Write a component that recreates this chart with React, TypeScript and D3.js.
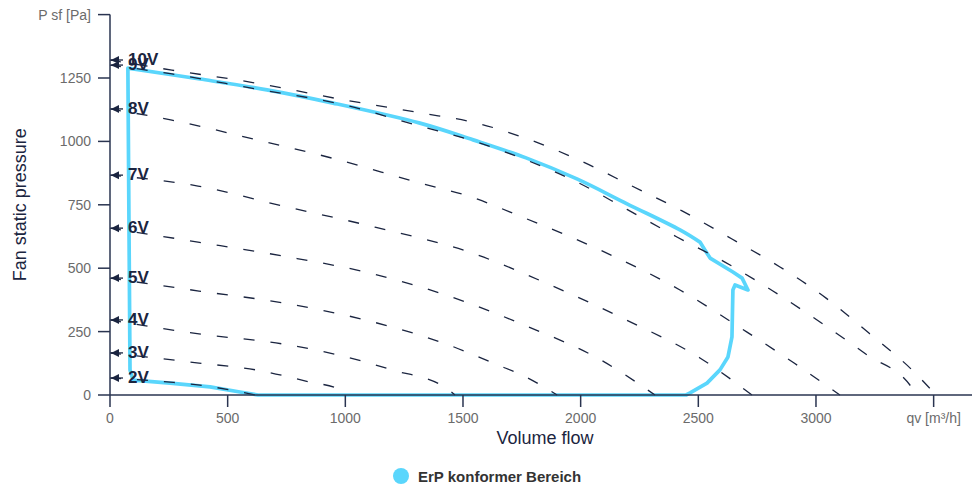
import React from 'react';
import * as d3 from 'd3';

type Pt = [number, number];

// Voltage curves: [volume flow m³/h, static pressure Pa]
const voltageLabels = ['2V', '3V', '4V', '5V', '6V', '7V', '8V', '9V', '10V'];
const curve2V: Pt[] = [[0, 67], [255, 51], [382, 39], [510, 20], [620, 0]];
const curve3V: Pt[] = [[0, 166], [378, 126], [620, 99], [850, 51], [969, 24], [1007, 0]];
const curve4V: Pt[] = [[0, 296], [378, 241], [735, 201], [969, 158], [1198, 99], [1428, 28], [1466, 0]];
const curve5V: Pt[] = [[0, 461], [378, 410], [735, 363], [1084, 296], [1428, 201], [1649, 118], [1759, 75], [1900, 0]];
const curve6V: Pt[] = [[0, 658], [374, 603], [735, 548], [1084, 485], [1428, 394], [1759, 276], [2086, 138], [2316, 0]];
const curve7V: Pt[] = [[0, 867], [374, 824], [718, 749], [1126, 662], [1538, 560], [1861, 438], [2193, 296], [2507, 146], [2728, 0]];
const curve8V: Pt[] = [[0, 1128], [263, 1084], [612, 1009], [956, 931], [1300, 840], [1534, 781], [1751, 702], [2082, 572], [2422, 414], [2707, 248], [2907, 126], [3102, 0]];
const curve9V: Pt[] = [[0, 1301], [263, 1266], [595, 1211], [999, 1143], [1313, 1061], [1543, 1002], [1768, 927], [1984, 840], [2197, 732], [2409, 623], [2613, 524], [2817, 410], [3017, 288], [3217, 158], [3408, 28], [3425, 0]];
const curve10V: Pt[] = [[0, 1321], [263, 1281], [595, 1234], [999, 1163], [1322, 1112], [1555, 1073], [1785, 1006], [2001, 923], [2218, 824], [2431, 726], [2643, 615], [2847, 505], [3043, 382], [3225, 244], [3408, 99], [3510, 0]];
const voltageCurves: Pt[][] = [curve2V, curve3V, curve4V, curve5V, curve6V, curve7V, curve8V, curve9V, curve10V];

// ErP conform region outline: smooth upper edge, then the rest of the outline
const erpTopFlow = [76, 382, 667, 948, 1317, 1543, 1768, 1984, 2197, 2422, 2507];
const erpTopPressure = [1289, 1246, 1203, 1151, 1072, 1006, 935, 852, 754, 651, 603];
const erpRestFlow = [2507, 2528, 2550, 2647, 2686, 2711, 2656, 2647, 2643, 2626, 2592, 2537, 2465, 2448, 629, 552, 425, 255, 98, 85, 76];
const erpRestPressure = [603, 572, 540, 485, 461, 414, 434, 414, 229, 150, 99, 47, 8, 0, 0, 12, 32, 47, 59, 99, 1289];

const yTicks = [0, 250, 500, 750, 1000, 1250, 1500];
const yTickLabels = ['0', '250', '500', '750', '1000', '1250', 'P sf [Pa]'];
const xTicks = [0, 500, 1000, 1500, 2000, 2500, 3000, 3500];
const xTickLabels = ['0', '500', '1000', '1500', '2000', '2500', '3000', 'qv [m³/h]'];

const W = 972;
const H = 485;
const FONT = '"Liberation Sans", Arial, Helvetica, sans-serif';
const AXIS = '#2a3450';
const NAVY = '#1b2540';
const BLUE = '#5ad6fc';

export default function App() {
  const x = d3.scaleLinear().domain([0, 3663]).range([110, 972]);
  const y = d3.scaleLinear().domain([0, 1500]).range([395, 14.6]);

  const line = d3
    .line<Pt>()
    .x((d) => x(d[0]))
    .y((d) => y(d[1]))
    .curve(d3.curveMonotoneX);

  const topPts: Pt[] = erpTopFlow.map((f, i) => [f, erpTopPressure[i]]);
  const restPts: Pt[] = erpRestFlow.map((f, i) => [f, erpRestPressure[i]]);
  const topLine = d3
    .line<Pt>()
    .x((d) => x(d[0]))
    .y((d) => y(d[1]))
    .curve(d3.curveCatmullRom.alpha(0.5));
  const restLine = d3
    .line<Pt>()
    .x((d) => x(d[0]))
    .y((d) => y(d[1]))
    .curve(d3.curveLinear);
  const restD = (restLine(restPts) || '').replace(/^M/, 'L');
  const erpD = (topLine(topPts) || '') + restD + 'Z';

  const x0 = x(0);
  const yBase = y(0);

  return (
    <svg
      width={W}
      height={H}
      style={{ position: 'absolute', left: 0, top: 0, background: '#fff' }}
      fontFamily={FONT}
    >
      {/* ErP region */}
      <path
        d={erpD}
        fill="none"
        stroke={BLUE}
        strokeWidth={3.7}
        strokeLinejoin="round"
        strokeLinecap="round"
      />

      {/* voltage curves */}
      {voltageCurves.map((c, i) => (
        <path
          key={'c' + i}
          d={line(c) || ''}
          fill="none"
          stroke={NAVY}
          strokeWidth={1.3}
          strokeDasharray="11,16"
        />
      ))}

      {/* axes */}
      <line x1={x0} x2={x0} y1={y(1500)} y2={yBase} stroke={AXIS} strokeWidth={1.5} />
      <line x1={x0} x2={W} y1={yBase} y2={yBase} stroke={AXIS} strokeWidth={1.5} />
      {yTicks.map((t, i) => (
        <g key={'yt' + i}>
          <line x1={x0 - 12} x2={x0} y1={y(t)} y2={y(t)} stroke={AXIS} strokeWidth={1.5} />
          <text x={x0 - 19} y={y(t)} dy="0.35em" textAnchor="end" fontSize={14} fill="#6b6b6b">
            {yTickLabels[i]}
          </text>
        </g>
      ))}
      {xTicks.map((t, i) => (
        <g key={'xt' + i}>
          <line x1={x(t)} x2={x(t)} y1={yBase} y2={yBase + 12} stroke={AXIS} strokeWidth={1.5} />
          <text x={x(t)} y={yBase + 18} dy="0.71em" textAnchor="middle" fontSize={14} fill="#6b6b6b">
            {xTickLabels[i]}
          </text>
        </g>
      ))}

      {/* axis titles */}
      <text
        transform={`translate(20, ${(y(1500) + yBase) / 2}) rotate(-90)`}
        textAnchor="middle"
        dy="0.35em"
        fontSize={18}
        fill={NAVY}
      >
        Fan static pressure
      </text>
      <text x={545} y={438} dy="0.35em" textAnchor="middle" fontSize={18} fill={NAVY}>
        Volume flow
      </text>

      {/* start arrows and labels */}
      {voltageCurves.map((c, i) => {
        const ay = y(c[0][1]);
        return (
          <g key={'a' + i}>
            <path d={`M${x0 + 1},${ay} L${x0 + 9},${ay - 4} L${x0 + 9},${ay + 4} Z`} fill={NAVY} />
            <line x1={x0 + 1} x2={x0 + 13} y1={ay} y2={ay} stroke={NAVY} strokeWidth={1.3} />
            <text x={x0 + 18} y={ay - 1} dy="0.35em" fontSize={17} fontWeight="bold" fill={NAVY}>
              {voltageLabels[i]}
            </text>
          </g>
        );
      })}

      {/* legend */}
      <circle cx={401} cy={476} r={8} fill={BLUE} />
      <text x={418} y={477} dy="0.35em" fontSize={15} fontWeight="bold" fill="#333">
        ErP konformer Bereich
      </text>
    </svg>
  );
}
